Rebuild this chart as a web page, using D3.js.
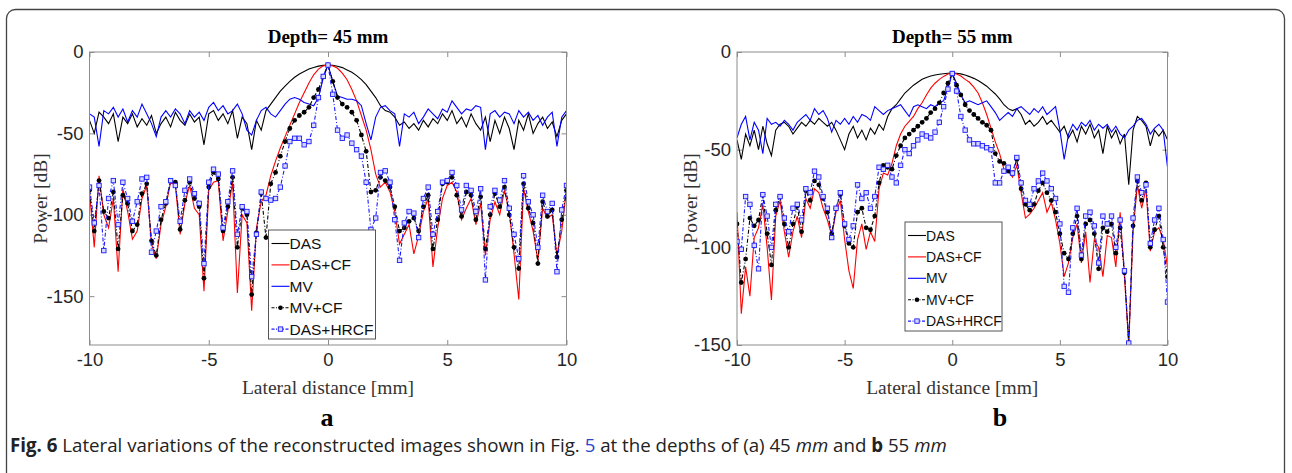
<!DOCTYPE html>
<html>
<head>
<meta charset="utf-8">
<script src="https://cdnjs.cloudflare.com/ajax/libs/d3/7.8.5/d3.min.js"></script>
<style>
  body { margin: 0; background: #fff; }
  svg { display: block; }
</style>
</head>
<body>
<svg id="fig" width="1292" height="473"></svg>
<script>
// lateral sampling grid, 0.2 mm apart, -10 .. 10 mm
var lateral = d3.range(101).map(function(i) { return +(-10 + i * 0.2).toFixed(1); });

var xTicks = [-10, -5, 0, 5, 10];
var yTicks = [-150, -100, -50, 0];
var seriesNames = ["DAS", "DAS+CF", "MV", "MV+CF", "DAS+HRCF"];

// ---- depth 45 mm (panel a), values in dB ----
var dasA = [
  -42, -50, -37, -40, -44, -38, -55, -40, -44, -38,
  -46, -41, -45, -39, -50, -44, -40, -46, -37, -42,
  -45, -38, -43, -40, -57, -38, -36, -42, -38, -44,
  -36, -53, -40, -44, -60, -42, -48, -36, -32, -28,
  -24, -21, -18, -15.5, -13.5, -12, -10.5, -9.5, -8.7, -8.2,
  -8, -8.2, -8.7, -9.6, -11, -12.5, -14.5, -17, -20, -24,
  -28, -33, -36, -37, -40, -45, -43, -47, -44, -48,
  -42, -46, -41, -44, -38, -42, -36, -44, -40, -46,
  -38, -44, -48, -40, -55, -42, -50, -40, -47, -60,
  -42, -48, -38, -50, -44, -40, -47, -43, -52, -42, -38
];
var dasCfA = [
  -86, -120, -76, -100, -108, -90, -135, -84, -98, -115,
  -110, -90, -82, -118, -127, -106, -95, -80, -82, -112,
  -93, -82, -96, -100, -147, -85, -80, -79, -116, -98,
  -80, -148, -100, -105, -159, -108, -92, -88, -76, -67,
  -59, -52, -45, -38, -31, -25, -19, -14, -10.5, -8.5,
  -8, -8.5, -10, -13, -17, -23, -30, -39, -48, -60,
  -75, -83, -80, -86, -98, -118, -112, -106, -124, -113,
  -98, -90, -132, -108, -90, -82, -80, -86, -103, -96,
  -90, -106, -93, -125, -103, -92, -100, -85, -98, -124,
  -152, -84, -98, -110, -128, -96, -102, -100, -125, -110, -84
];
var mvA = [
  -38, -40, -58, -36, -38, -34, -40, -35, -43, -36,
  -40, -32, -38, -44, -52, -40, -36, -40, -35, -38,
  -44, -36, -40, -37, -42, -34, -31, -36, -33, -38,
  -36, -32, -38, -48, -51, -42, -36, -34, -38, -40,
  -36, -32, -29, -28, -29, -31, -32, -33, -28, -16,
  -8, -18, -27, -28, -29, -29, -30, -33, -44, -54,
  -40, -34, -33, -36, -38, -58, -38, -40, -37, -44,
  -40, -35, -38, -41, -35, -37, -30, -34, -38, -35,
  -36, -33, -34, -60, -38, -36, -40, -37, -38, -44,
  -36, -40, -37, -42, -39, -45, -40, -37, -58, -40, -36
];
var mvCfA = [
  -85, -110, -79, -98, -102, -86, -121, -88, -93, -110,
  -106, -87, -81, -116, -125, -103, -93, -79, -80, -109,
  -91, -80, -90, -95, -139, -83, -74, -78, -110, -95,
  -77, -120, -96, -100, -149, -111, -87, -114, -81, -74,
  -64, -55, -47, -42, -39, -37, -34, -28, -23, -15,
  -8, -18, -28, -32, -34, -37, -42, -51, -61, -86,
  -85, -77, -79, -83, -95, -110, -108, -104, -102, -110,
  -95, -88, -121, -103, -81, -80, -77, -88, -101, -86,
  -88, -103, -89, -121, -100, -87, -95, -83, -100, -120,
  -133, -81, -96, -105, -130, -92, -101, -97, -126, -103, -85
];
var hrcfA = [
  -83, -105, -82, -122, -90, -79, -106, -80, -90, -104,
  -92, -78, -77, -123, -110, -95, -92, -79, -82, -104,
  -85, -78, -87, -93, -130, -80, -72, -75, -108, -92,
  -73, -112, -95, -98, -138, -112, -86, -90, -91, -90,
  -83, -70, -55, -53, -53, -57, -55, -45, -28, -15,
  -8, -26, -48, -53, -51, -56, -60, -64, -80, -109,
  -102, -74, -73, -80, -103, -128, -105, -98, -99, -114,
  -90, -83, -112, -98, -80, -79, -74, -82, -97, -82,
  -85, -98, -84, -140, -95, -85, -91, -79, -96, -112,
  -127, -76, -92, -100, -120, -88, -98, -93, -135, -97, -82
];

// ---- depth 55 mm (panel b) ----
var dasB = [
  -45, -55, -42, -48, -40, -50, -38, -47, -53, -40,
  -37, -36, -38, -42, -39, -36, -38, -35, -37, -34,
  -36, -38, -36, -40, -45, -50, -42, -38, -44, -40,
  -45, -39, -42, -37, -40, -33, -29, -27, -24, -21,
  -19, -17, -15.5, -14, -13, -12.3, -11.8, -11.4, -11.1, -10.9,
  -10.8, -10.9, -11.2, -11.8, -12.6, -13.5, -14.6, -16, -17.5, -19.5,
  -21.5, -24, -27, -29, -30, -29, -32, -37, -35, -38,
  -36, -33, -37, -35, -38, -41, -38, -44, -40, -46,
  -38, -42, -37, -44, -40, -52, -38, -44, -40, -47,
  -42, -68, -40, -33, -35, -38, -48, -40, -43, -40, -45
];
var dasCfB = [
  -82, -134, -110, -125, -95, -90, -78, -100, -127, -84,
  -76, -92, -105, -92, -84, -95, -75, -80, -70, -72,
  -80, -86, -94, -82, -76, -96, -112, -121, -96, -88,
  -101, -92, -97, -70, -62, -63, -57, -48, -42, -38,
  -35.5, -33, -29, -26, -22, -18.5, -16, -14, -12.5, -11.3,
  -11, -11.3, -12.3, -14, -15.5, -18, -21, -26, -32, -39,
  -46, -52, -60, -61, -64, -58, -72, -85, -83, -80,
  -76, -72, -82, -77, -86, -98, -115, -108, -95, -88,
  -108, -92, -118, -96, -100, -115, -94, -95, -110, -82,
  -115, -150, -92, -68, -80, -70, -102, -92, -90, -96, -110
];
var mvB = [
  -44, -37, -33, -45, -36, -40, -52, -34, -37, -36,
  -38, -35, -37, -40, -36, -34, -32, -35, -29, -32,
  -30, -34, -41, -35, -37, -34, -37, -33, -36, -32,
  -33, -35, -28, -30, -32, -30, -29, -28, -27, -30,
  -33, -28, -27, -28, -29, -27, -28, -26, -25, -18,
  -11, -16, -22, -26, -25, -26, -27, -26, -25, -28,
  -31, -35, -33, -31, -33, -29, -28, -30, -32, -29,
  -31, -28, -32, -30, -28, -40, -55, -42, -37, -40,
  -36, -38, -35, -40, -37, -39, -37, -41, -38, -42,
  -44, -40, -38, -35, -34, -37, -42, -39, -37, -40, -59
];
var mvCfB = [
  -88, -118, -106, -85, -89, -86, -73, -93, -109, -81,
  -74, -88, -100, -88, -79, -92, -71, -76, -66, -68,
  -75, -82, -93, -80, -73, -89, -98, -100, -82, -80,
  -90, -91, -84, -67, -58, -59, -60, -53, -48, -44,
  -42, -40, -38, -36, -34, -31, -29, -26, -21, -16,
  -11, -17, -22, -27, -30, -32, -34, -36, -37.5, -40,
  -52, -56, -57, -61, -62, -55, -70, -78, -81, -78,
  -71, -67, -72, -76, -82, -93, -103, -106, -93, -84,
  -106, -88, -86, -93, -111, -90, -92, -88, -103, -90,
  -113, -149, -89, -66, -76, -67, -100, -91, -84, -100, -115
];
var hrcfB = [
  -97, -101, -74, -78, -99, -111, -73, -84, -100, -78,
  -74, -85, -92, -80, -78, -86, -70, -72, -61, -64,
  -74, -80, -95, -80, -72, -88, -96, -89, -68, -75,
  -72, -80, -74, -59, -60, -58, -64, -67, -58, -50,
  -52, -48, -45, -42, -43, -44, -41, -36, -28, -19,
  -11, -20, -33, -40, -45, -47, -47, -48, -49, -50,
  -67, -67, -61, -59, -62, -54, -67, -76, -78, -70,
  -66, -62, -66, -70, -75, -88, -120, -123, -90, -80,
  -104, -84, -82, -89, -108, -84, -88, -84, -100, -86,
  -112, -149, -85, -64, -72, -68, -98, -86, -80, -96, -128
];

// line look for each curve (MATLAB defaults)
var styles = {
  "DAS":      { color: "#000000", dash: null,      marker: null },
  "DAS+CF":   { color: "#ff0000", dash: null,      marker: null },
  "MV":       { color: "#0000ff", dash: null,      marker: null },
  "MV+CF":    { color: "#000000", dash: "4,2,1,2", marker: "circle" },
  "DAS+HRCF": { color: "#1a1aff", dash: "4,2,1,2", marker: "square" }
};

var panels = [
  { id: "a", title: "Depth= 45 mm", left: 89.5, right: 566.5, yMin: -180,
    yLabelX: 40, tagX: 327,
    series: [dasA, dasCfA, mvA, mvCfA, hrcfA],
    legend: { x: 268.5, y: 230, w: 107, h: 109, font: 15.5 } },
  { id: "b", title: "Depth= 55 mm", left: 737, right: 1167.5, yMin: -150,
    yLabelX: 690, tagX: 1000,
    series: [dasB, dasCfB, mvB, mvCfB, hrcfB],
    legend: { x: 905, y: 222, w: 97, h: 109, font: 14 } }
];

// note: "top" is taken by window.top, so use other names
var plotTop = 52, plotBottom = 345;
var svg = d3.select("#fig");

// outer figure frame
svg.append("rect")
    .attr("x", 6.5)
    .attr("y", 9.5)
    .attr("width", 1278)
    .attr("height", 520)
    .attr("rx", 9)
    .attr("fill", "none")
    .attr("stroke", "#444")
    .attr("stroke-width", 1.3);

function plainNum(d) { return String(d); }

panels.forEach(function(p) {
  var x = d3.scaleLinear().domain([-10, 10]).range([p.left, p.right]);
  var y = d3.scaleLinear().domain([p.yMin, 0]).range([plotBottom, plotTop]);
  var g = svg.append("g");

  g.append("clipPath").attr("id", "clip-" + p.id)
    .append("rect")
      .attr("x", p.left)
      .attr("y", plotTop)
      .attr("width", p.right - p.left)
      .attr("height", plotBottom - plotTop);

  // axes with inward ticks, mirrored on top/right
  var ax = g.append("g").attr("class", "axes");
  ax.append("g")
      .attr("transform", "translate(0," + plotBottom + ")")
      .call(d3.axisBottom(x).tickValues(xTicks).tickFormat(plainNum)
        .tickSizeInner(-5).tickSizeOuter(0).tickPadding(8));
  ax.append("g")
      .attr("transform", "translate(0," + plotTop + ")")
      .call(d3.axisTop(x).tickValues(xTicks).tickFormat("")
        .tickSizeInner(-5).tickSizeOuter(0));
  ax.append("g")
      .attr("transform", "translate(" + p.left + ",0)")
      .call(d3.axisLeft(y).tickValues(yTicks).tickFormat(plainNum)
        .tickSizeInner(-5).tickSizeOuter(0).tickPadding(6));
  ax.append("g")
      .attr("transform", "translate(" + p.right + ",0)")
      .call(d3.axisRight(y).tickValues(yTicks).tickFormat("")
        .tickSizeInner(-5).tickSizeOuter(0));
  ax.selectAll(".domain").remove();
  ax.selectAll(".tick line").attr("stroke", "#8c8c8c");
  ax.selectAll(".tick text")
      .attr("fill", "#262626")
      .style("font-family", "'Liberation Sans', Arial, sans-serif")
      .style("font-size", "18.5px");

  // the curves
  var line = d3.line()
      .x(function(d, i) { return x(lateral[i]); })
      .y(function(d) { return y(d); });

  var plot = g.append("g").attr("clip-path", "url(#clip-" + p.id + ")");
  p.series.forEach(function(vals, k) {
    var st = styles[seriesNames[k]];
    plot.append("path")
        .datum(vals)
        .attr("d", line)
        .attr("fill", "none")
        .attr("stroke", st.color)
        .attr("stroke-width", 1.1)
        .attr("stroke-dasharray", st.dash);

    if (st.marker == "circle") {
      plot.append("g").selectAll("circle")
          .data(vals)
          .join("circle")
          .attr("cx", function(d, i) { return x(lateral[i]); })
          .attr("cy", function(d) { return y(d); })
          .attr("r", 2.4)
          .attr("fill", st.color);
    } else if (st.marker == "square") {
      plot.append("g").selectAll("rect")
          .data(vals)
          .join("rect")
          .attr("x", function(d, i) { return x(lateral[i]) - 2.2; })
          .attr("y", function(d) { return y(d) - 2.2; })
          .attr("width", 4.4)
          .attr("height", 4.4)
          .attr("fill", "#d8d8ff")
          .attr("stroke", st.color)
          .attr("stroke-width", 0.9);
    }
  });

  // box round the plot area
  g.append("rect")
      .attr("x", p.left)
      .attr("y", plotTop)
      .attr("width", p.right - p.left)
      .attr("height", plotBottom - plotTop)
      .attr("fill", "none")
      .attr("stroke", "#8c8c8c")
      .attr("stroke-width", 1);

  // title and axis labels
  g.append("text")
      .attr("x", (p.left + p.right) / 2)
      .attr("y", 43)
      .attr("text-anchor", "middle")
      .style("font-family", "'Liberation Serif', 'Times New Roman', serif")
      .style("font-weight", "bold")
      .style("font-size", "19px")
      .text(p.title);

  g.append("text")
      .attr("x", (p.left + p.right) / 2)
      .attr("y", 394)
      .attr("text-anchor", "middle")
      .attr("fill", "#333")
      .style("font-family", "'Liberation Serif', 'Times New Roman', serif")
      .style("font-size", "19.5px")
      .text("Lateral distance [mm]");

  g.append("text")
      .attr("transform", "translate(" + (p.yLabelX + 7) + "," + (plotTop + plotBottom) / 2 + ") rotate(-90)")
      .attr("text-anchor", "middle")
      .attr("fill", "#333")
      .style("font-family", "'Liberation Serif', 'Times New Roman', serif")
      .style("font-size", "19.5px")
      .text("Power [dB]");

  g.append("text")
      .attr("x", p.tagX)
      .attr("y", 426)
      .attr("text-anchor", "middle")
      .style("font-family", "'Liberation Serif', 'Times New Roman', serif")
      .style("font-weight", "bold")
      .style("font-size", "26px")
      .text(p.id);

  // legend
  var L = p.legend;
  var lg = g.append("g");
  lg.append("rect")
      .attr("x", L.x)
      .attr("y", L.y)
      .attr("width", L.w)
      .attr("height", L.h)
      .attr("fill", "#fff")
      .attr("stroke", "#555")
      .attr("stroke-width", 1);

  seriesNames.forEach(function(name, k) {
    var st = styles[name];
    var cy = L.y + 13.5 + k * 21.4;
    lg.append("line")
        .attr("x1", L.x + 3)
        .attr("x2", L.x + 21)
        .attr("y1", cy)
        .attr("y2", cy)
        .attr("stroke", st.color)
        .attr("stroke-width", 1.1)
        .attr("stroke-dasharray", st.dash ? "3,1.5,1,1.5" : null);
    if (st.marker == "circle") {
      lg.append("circle")
          .attr("cx", L.x + 12).attr("cy", cy).attr("r", 2.3)
          .attr("fill", st.color);
    } else if (st.marker == "square") {
      lg.append("rect")
          .attr("x", L.x + 9.8).attr("y", cy - 2.2)
          .attr("width", 4.4).attr("height", 4.4)
          .attr("fill", "#d8d8ff").attr("stroke", st.color).attr("stroke-width", 0.9);
    }
    lg.append("text")
        .attr("x", L.x + 21)
        .attr("y", cy)
        .attr("dy", "0.36em")
        .attr("fill", "#111")
        .style("font-family", "'Liberation Sans', Arial, sans-serif")
        .style("font-size", L.font + "px")
        .text(name);
  });
});

// figure caption
var cap = svg.append("text")
    .attr("x", 10)
    .attr("y", 452)
    .attr("fill", "#222")
    .style("font-family", "'Open Sans', 'Noto Sans', sans-serif")
    .style("font-size", "15px");
cap.append("tspan").style("font-weight", "bold").text("Fig. 6");
cap.append("tspan").text(" Lateral variations of the reconstructed images shown in Fig. ");
cap.append("tspan").attr("fill", "#2a45c8").text("5");
cap.append("tspan").text(" at the depths of (a) 45 ");
cap.append("tspan").style("font-style", "italic").text("mm");
cap.append("tspan").text(" and ");
cap.append("tspan").style("font-weight", "bold").text("b");
cap.append("tspan").text(" 55 ");
cap.append("tspan").style("font-style", "italic").text("mm");

// squeeze the caption to the width it has in the figure
var capLen = cap.node().getComputedTextLength();
cap.style("font-size", (15 * 937 / capLen) + "px");
</script>
</body>
</html>
